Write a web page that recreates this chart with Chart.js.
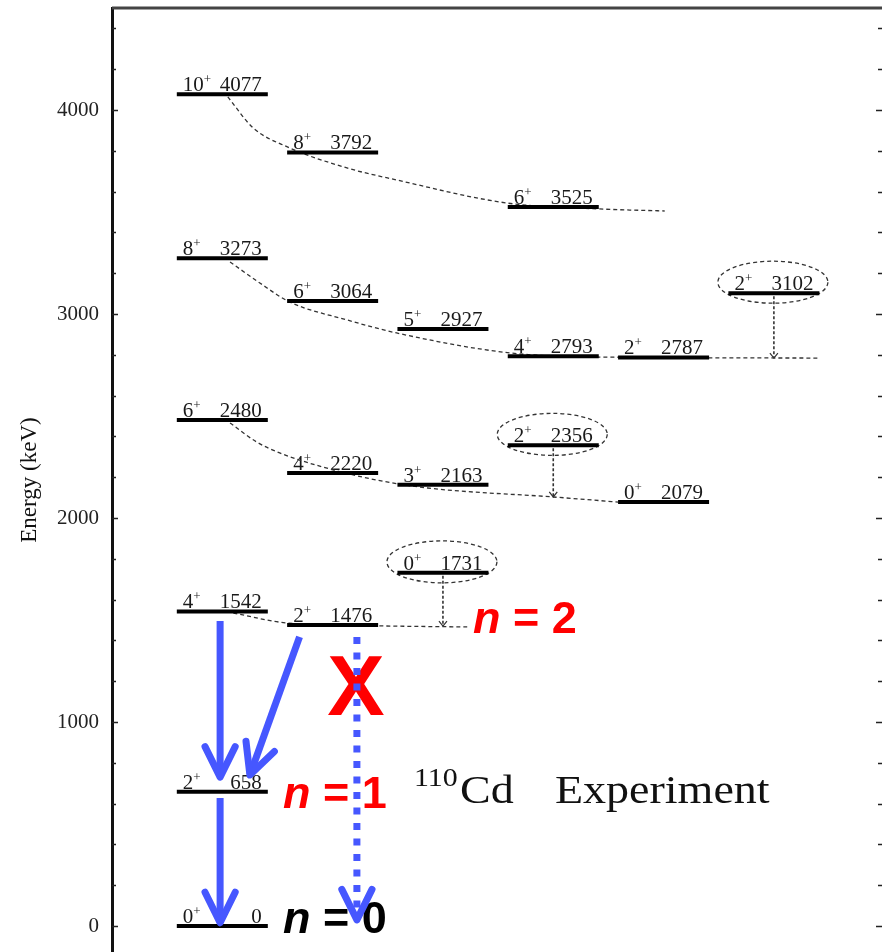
<!DOCTYPE html>
<html>
<head>
<meta charset="utf-8">
<script src="https://cdn.jsdelivr.net/npm/chart.js@4.4.1/dist/chart.umd.min.js"></script>
<style>
  html, body { margin: 0; padding: 0; background: #fff; overflow: hidden; }
  #wrap { width: 882px; height: 952px; }
</style>
</head>
<body>
<div id="wrap"><canvas id="chart"></canvas></div>
<script>
// 110Cd experimental levels (keV), spin of each level and the column it sits in
var levelEnergy = [4077, 3273, 2480, 1542, 658, 0, 3792, 3064, 2220, 1476, 2927, 2163, 1731, 3525, 2793, 2356, 2787, 2079, 3102];
var levelSpin   = ['10', '8', '6', '4', '2', '0', '8', '6', '4', '2', '5', '3', '0', '6', '4', '2', '2', '0', '2'];
var levelColumn = [1, 1, 1, 1, 1, 1, 2, 2, 2, 2, 3, 3, 3, 4, 4, 4, 5, 5, 6];

// circled states and the energy where their dotted drop line ends
var ringedEnergy = [3102, 2356, 1731];
var ringedColumn = [6, 4, 3];
var ringedDropTo = [2784, 2103, 1470];

// dashed band curves: [column position, keV]
var bandA = [[1.05, 4064], [1.28, 3912], [1.59, 3819], [2.13, 3716], [2.58, 3657], [3.58, 3544], [4.42, 3515], [5.01, 3505]];
var bandB = [[1.07, 3255], [1.34, 3152], [1.61, 3059], [2.13, 2971], [2.58, 2907], [3.61, 2809], [4.42, 2789], [6.42, 2784]];
var bandC = [[1.07, 2466], [1.31, 2373], [1.52, 2319], [1.91, 2250], [2.40, 2186], [2.86, 2147], [4.00, 2103], [4.59, 2078]];
var bandD = [[1.10, 1534], [1.59, 1485], [2.43, 1471], [3.22, 1466]];

// blue transition arrows
var arrowFromX = [0.98, 1.70, 0.98, 2.22];
var arrowFromE = [1495, 1417, 627, 1417];
var arrowToX   = [0.98, 1.25, 0.98, 2.22];
var arrowToE   = [730, 740, 16, 30];
var arrowDotted = [false, false, false, true];

// y axis ticks
var yTicks = [0, 200, 400, 600, 800, 1000, 1200, 1400, 1600, 1800, 2000, 2200, 2400, 2600, 2800, 3000, 3200, 3400, 3600, 3800, 4000, 4200, 4400];
var yLabelled = [0, 1000, 2000, 3000, 4000];

var HALF = 0.4125;
var BLUE = '#4657ff';
var SERIF = '"Liberation Serif", "Times New Roman", serif';
var SANS = '"Liberation Sans", Arial, sans-serif';

var levelPoints = [];
levelEnergy.forEach(function (e, i) {
    var c = levelColumn[i];
    levelPoints.push({x: c - HALF, y: e}, {x: c + HALF, y: e}, {x: c + HALF, y: null});
});

function toPts(arr) {
    return arr.map(function (p) { return {x: p[0], y: p[1]}; });
}

var datasets = [];
arrowFromX.forEach(function (x0, i) {
    datasets.push({
        data: [{x: x0, y: arrowFromE[i]}, {x: arrowToX[i], y: arrowToE[i]}],
        borderColor: BLUE,
        borderWidth: 7,
        borderDash: arrowDotted[i] ? [7, 8.5] : [],
        borderCapStyle: 'butt',
        pointRadius: 0,
        order: 0
    });
});
datasets.push({
    data: levelPoints,
    borderColor: '#000',
    borderWidth: 4,
    spanGaps: false,
    pointRadius: 0,
    order: 1
});
[bandA, bandB, bandC, bandD].forEach(function (b) {
    datasets.push({
        data: toPts(b),
        borderColor: '#333',
        borderWidth: 1.3,
        borderDash: [4, 3],
        cubicInterpolationMode: 'monotone',
        pointRadius: 0,
        order: 2
    });
});

function stretchText(ctx, text, x, y, sx) {
    ctx.save();
    ctx.translate(x, y);
    ctx.scale(sx, 1);
    ctx.fillText(text, 0, 0);
    ctx.restore();
}

function nLabel(ctx, rest, x, y, color) {
    ctx.fillStyle = color;
    ctx.textAlign = 'left';
    ctx.font = 'italic bold 45px ' + SANS;
    ctx.fillText('n', x, y);
    var w = ctx.measureText('n').width;
    ctx.font = 'bold 45px ' + SANS;
    ctx.fillText(rest, x + w, y);
}

var schemePlugin = {
    id: 'scheme',
    beforeDatasetsDraw: function (chart) {
        var ctx = chart.ctx, xs = chart.scales.x, ys = chart.scales.y;
        ctx.save();
        ctx.fillStyle = '#1a1a1a';
        ctx.textBaseline = 'alphabetic';
        // level labels
        levelEnergy.forEach(function (e, i) {
            var x1 = xs.getPixelForValue(levelColumn[i] - HALF);
            var x2 = xs.getPixelForValue(levelColumn[i] + HALF);
            var y = ys.getPixelForValue(e);
            ctx.font = '21px ' + SERIF;
            ctx.textAlign = 'left';
            ctx.fillText(levelSpin[i], x1 + 6, y - 3);
            var w = ctx.measureText(levelSpin[i]).width;
            ctx.font = '13px ' + SERIF;
            ctx.fillText('+', x1 + 6 + w, y - 11);
            ctx.font = '21px ' + SERIF;
            ctx.textAlign = 'right';
            ctx.fillText(String(e), x2 - 6, y - 3);
        });
        // circles round the special states and their dotted drops
        ctx.strokeStyle = '#333';
        ringedEnergy.forEach(function (e, i) {
            var cx = xs.getPixelForValue(ringedColumn[i]);
            var y = ys.getPixelForValue(e);
            var yEnd = ys.getPixelForValue(ringedDropTo[i]);
            ctx.lineWidth = 1.3;
            ctx.setLineDash([4, 3]);
            ctx.beginPath();
            ctx.ellipse(cx - 1, y - 11, 55, 21, 0, 0, Math.PI * 2);
            ctx.stroke();
            ctx.lineWidth = 1.6;
            ctx.setLineDash([3, 2]);
            ctx.beginPath();
            ctx.moveTo(cx, y + 3);
            ctx.lineTo(cx, yEnd);
            ctx.stroke();
            ctx.setLineDash([]);
            ctx.lineWidth = 1.2;
            ctx.beginPath();
            ctx.moveTo(cx - 4, yEnd - 5);
            ctx.lineTo(cx, yEnd);
            ctx.lineTo(cx + 4, yEnd - 5);
            ctx.stroke();
        });
        // annotations
        nLabel(ctx, ' = 2', 473, 633, '#ff0000');
        nLabel(ctx, ' = 1', 283, 808, '#ff0000');
        nLabel(ctx, ' = 0', 283, 933, '#000');
        ctx.fillStyle = '#ff0000';
        ctx.font = 'bold 86px ' + SANS;
        ctx.textAlign = 'center';
        ctx.fillText('X', 356, 715);
        ctx.fillStyle = '#111';
        ctx.textAlign = 'left';
        ctx.font = '26px ' + SERIF;
        stretchText(ctx, '110', 414, 786, 1.15);
        ctx.font = '40px ' + SERIF;
        stretchText(ctx, 'Cd', 460, 803, 1.15);
        stretchText(ctx, 'Experiment', 555, 803, 1.15);
        ctx.restore();
    },
    afterDatasetsDraw: function (chart) {
        var ctx = chart.ctx, xs = chart.scales.x, ys = chart.scales.y, area = chart.chartArea;
        ctx.save();
        // arrow heads
        ctx.strokeStyle = BLUE;
        ctx.lineWidth = 7;
        ctx.lineCap = 'round';
        ctx.lineJoin = 'round';
        arrowFromX.forEach(function (x0, i) {
            var px0 = xs.getPixelForValue(x0), py0 = ys.getPixelForValue(arrowFromE[i]);
            var px1 = xs.getPixelForValue(arrowToX[i]), py1 = ys.getPixelForValue(arrowToE[i]);
            var ang = Math.atan2(py1 - py0, px1 - px0);
            var len = 34, spread = 0.46;
            ctx.beginPath();
            ctx.moveTo(px1 - len * Math.cos(ang - spread), py1 - len * Math.sin(ang - spread));
            ctx.lineTo(px1, py1);
            ctx.lineTo(px1 - len * Math.cos(ang + spread), py1 - len * Math.sin(ang + spread));
            ctx.stroke();
        });
        // inward tick marks on both sides
        ctx.strokeStyle = '#222';
        ctx.lineWidth = 1.5;
        ctx.lineCap = 'butt';
        yTicks.forEach(function (v) {
            var y = Math.round(ys.getPixelForValue(v)) + 0.5;
            var l = yLabelled.indexOf(v) >= 0 ? 6 : 4;
            ctx.beginPath();
            ctx.moveTo(area.left, y);
            ctx.lineTo(area.left + l, y);
            ctx.moveTo(chart.width, y);
            ctx.lineTo(chart.width - l, y);
            ctx.stroke();
        });
        // top frame line
        ctx.strokeStyle = '#444';
        ctx.lineWidth = 3;
        ctx.beginPath();
        ctx.moveTo(area.left, area.top);
        ctx.lineTo(chart.width, area.top);
        ctx.stroke();
        ctx.restore();
    }
};

var ctx = document.getElementById('chart').getContext('2d');
var myChart = new Chart(ctx, {
    type: 'line',
    data: { datasets: datasets },
    plugins: [schemePlugin],
    options: {
        responsive: true,
        maintainAspectRatio: false,
        animation: false,
        events: [],
        layout: { padding: { top: 8, left: 0, right: 0, bottom: 0 } },
        plugins: { legend: { display: false }, tooltip: { enabled: false } },
        scales: {
            x: { type: 'linear', min: 0, max: 6.98, display: false },
            y: {
                type: 'linear',
                min: -127.5,
                max: 4500,
                afterBuildTicks: function (scale) {
                    scale.ticks = yTicks.map(function (v) { return {value: v}; });
                },
                afterFit: function (scale) {
                    scale.width = 112;
                    scale.paddingTop = 0;
                    scale.paddingBottom = 0;
                },
                ticks: {
                    padding: 13,
                    color: '#222',
                    font: { family: SERIF, size: 21 },
                    callback: function (v) { return yLabelled.indexOf(v) >= 0 ? String(v) : null; }
                },
                grid: { display: true, drawOnChartArea: false, drawTicks: false },
                border: { display: true, color: '#111', width: 3 },
                title: {
                    display: true,
                    text: 'Energy (keV)',
                    color: '#111',
                    font: { family: SERIF, size: 23 },
                    padding: { top: 16, bottom: 0 }
                }
            }
        }
    }
});
</script>
</body>
</html>
